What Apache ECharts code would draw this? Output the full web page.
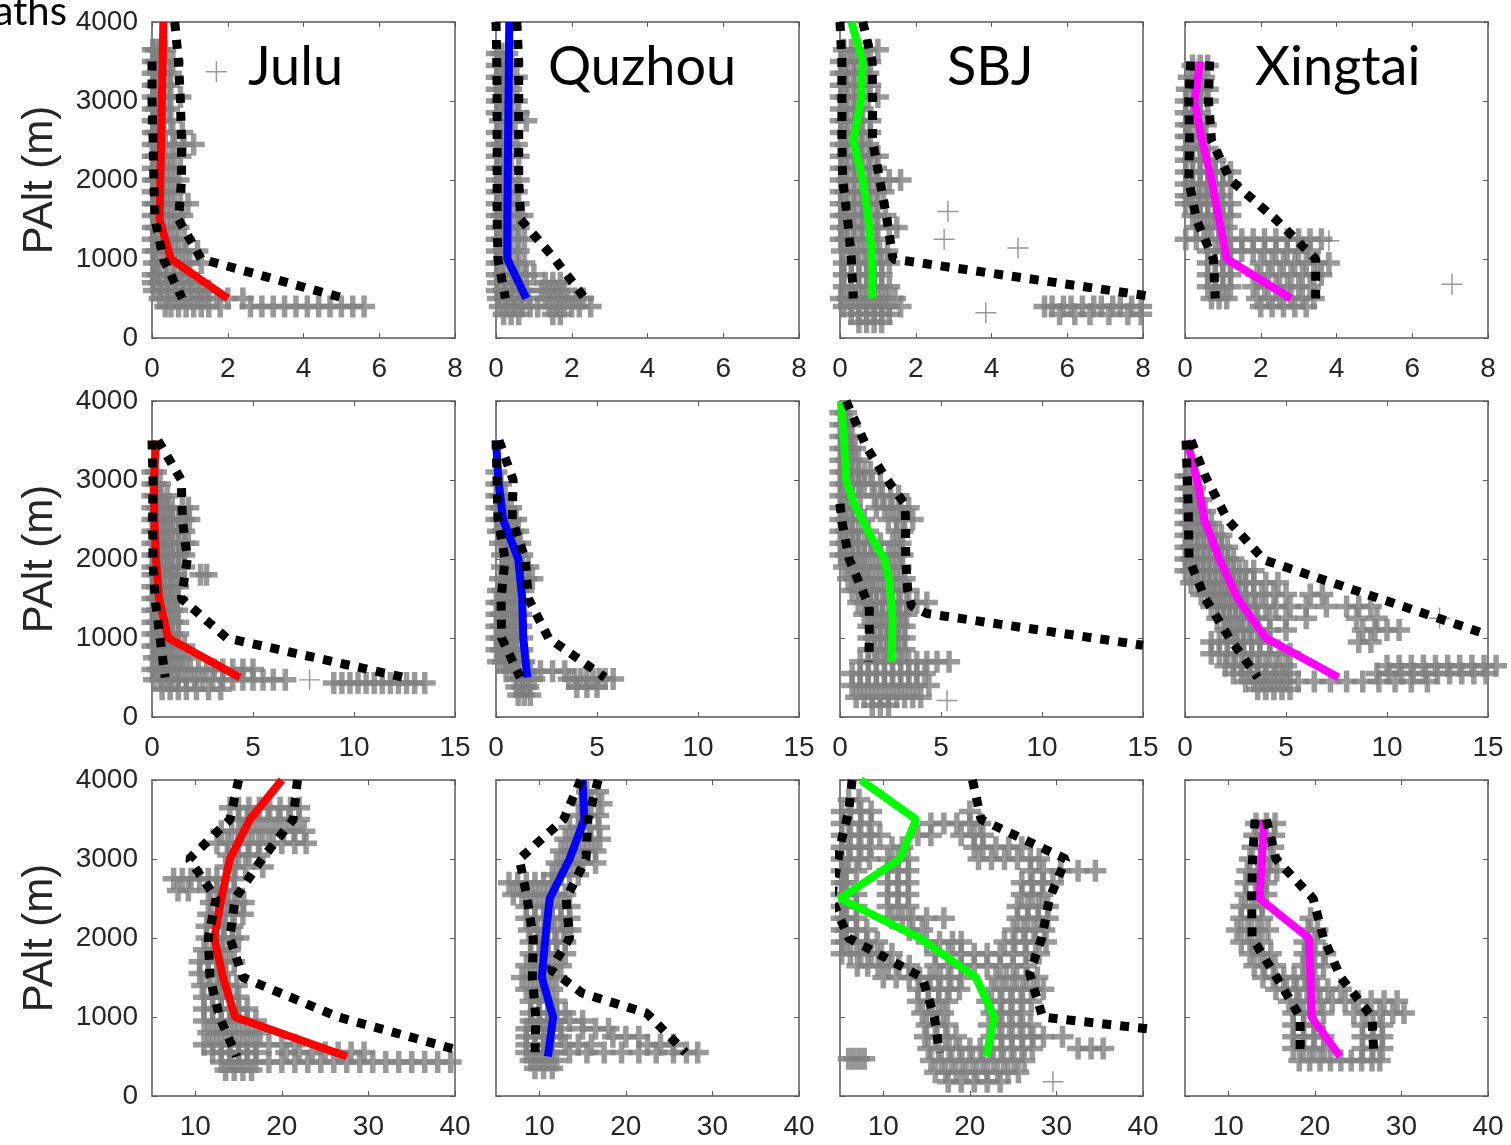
<!DOCTYPE html>
<html>
<head>
<meta charset="utf-8">
<script src="https://cdn.jsdelivr.net/npm/echarts@6/dist/echarts.min.js"></script>
<style>
  html, body { margin: 0; padding: 0; background: #fff; }
  #chart { width: 1511px; height: 1145px; }
</style>
</head>
<body>
<div id="chart"></div>
<script>
// site names / colours (one column each)
const sites = ["Julu", "Quzhou", "SBJ", "Xingtai"];
const siteColors = ["#ff0000", "#0000ff", "#00ff00", "#ff00ff"];

// axis ranges per row
const rowXMin = [0, 0, 5];
const rowXMax = [8, 15, 40];
const rowXTicks = [[0, 2, 4, 6, 8], [0, 5, 10, 15], [10, 20, 30, 40]];

// ---------- row 1 ----------
const julu1Median = [[0.3,4000],[0.28,3500],[0.26,3000],[0.24,2500],[0.22,2000],[0.2,1500],[0.5,1000],[2.0,500]];
const julu1Low = [[0.0,3500],[0.0,3000],[0.03,2500],[0.05,2000],[0.08,1500],[0.3,1000],[0.8,500]];
const julu1High = [[0.6,4000],[0.7,3500],[0.75,3000],[0.78,2500],[0.78,2000],[0.7,1500],[1.3,1000],[5.1,500]];
// rows: [altitude, x, x, ...]
const julu1Cloud = [
  [3650,0.02,0.1,0.2,0.35],
  [3500,0.02,0.1,0.25,0.4,0.55],
  [3350,0.02,0.15,0.3,0.5],
  [3200,0.02,0.1,0.3,0.45],
  [3050,0.02,0.15,0.3,0.5,0.75],
  [2900,0.02,0.1,0.3,0.45],
  [2750,0.02,0.15,0.3,0.5],
  [2600,0.02,0.1,0.3,0.55,0.8],
  [2450,0.02,0.15,0.35,0.6,0.85,1.1],
  [2300,0.02,0.1,0.3,0.5,0.75],
  [2150,0.02,0.2,0.4,0.6],
  [2000,0.02,0.1,0.3,0.5,0.7],
  [1850,0.02,0.2,0.4,0.6],
  [1700,0.02,0.1,0.3,0.5,0.75,0.95],
  [1550,0.02,0.2,0.4,0.6,0.8],
  [1400,0.02,0.1,0.3,0.5,0.7],
  [1250,0.02,0.2,0.4,0.6,0.85],
  [1100,0.02,0.1,0.3,0.5,0.7,0.9,1.2],
  [950,0.05,0.2,0.4,0.6,0.8,1.0,1.3],
  [800,0.02,0.15,0.35,0.55,0.75,0.95],
  [700,0.02,0.2,0.4,0.6,0.8,1.0,1.2],
  [600,0.05,0.25,0.45,0.65,0.85,1.05,1.3,1.5],
  [500,0.2,0.4,0.6,0.8,1.0,1.2,1.4,1.7,2.0,2.4],
  [400,0.35,0.5,0.7,0.9,1.1,1.3,1.5,1.8,2.6,2.9,3.2,3.5,3.8,4.1,4.4,4.7,5.0,5.3,5.6]
];
// isolated single points: [x, altitude]
const julu1Stray = [[1.7,3370]];

const quzhou1Median = [[0.35,4000],[0.34,3500],[0.33,3000],[0.32,2500],[0.31,2000],[0.3,1500],[0.3,1000],[0.8,500]];
const quzhou1Low = [[0.0,4000],[0.02,3500],[0.03,3000],[0.03,2500],[0.03,2000],[0.03,1500],[0.05,1000],[0.25,500]];
const quzhou1High = [[0.55,4000],[0.6,3500],[0.6,3000],[0.6,2500],[0.6,2000],[0.65,1500],[1.55,1000],[2.35,500]];
const quzhou1Cloud = [
  [3600,0.02,0.15,0.3],
  [3450,0.02,0.2,0.4],
  [3300,0.02,0.15,0.35,0.55],
  [3150,0.02,0.2,0.4],
  [3000,0.02,0.15,0.35,0.55],
  [2850,0.02,0.2,0.4,0.6],
  [2750,0.1,0.3,0.5,0.8],
  [2600,0.02,0.2,0.4],
  [2450,0.02,0.15,0.35,0.55],
  [2300,0.02,0.2,0.4,0.6],
  [2150,0.02,0.15,0.35],
  [2000,0.02,0.2,0.4,0.6],
  [1850,0.02,0.15,0.35,0.55],
  [1700,0.02,0.2,0.4,0.6],
  [1550,0.02,0.15,0.35,0.55,0.7],
  [1400,0.02,0.2,0.4,0.6],
  [1250,0.02,0.15,0.35,0.55,0.75],
  [1100,0.02,0.2,0.4,0.6],
  [950,0.02,0.15,0.35,0.55,0.75],
  [800,0.02,0.2,0.4,0.6,0.8,1.0],
  [700,0.05,0.25,0.45,0.65,1.3,1.5,1.7],
  [600,0.02,0.2,0.4,0.6,0.8,1.2,1.4,1.6,1.8],
  [500,0.05,0.25,0.45,0.65,0.85,1.3,1.5,1.7,1.9,2.1,2.3],
  [400,0.1,0.3,0.5,0.7,0.9,1.1,1.4,1.6,1.8,2.0,2.2,2.5],
  [300,0.2,0.4,0.6,1.5,1.7]
];
const quzhou1Stray = [];

const sbj1Median = [[0.3,4000],[0.6,3500],[0.55,3000],[0.35,2500],[0.6,2000],[0.75,1500],[0.85,1000],[0.85,500]];
const sbj1Low = [[0.0,4000],[0.05,3500],[0.05,3000],[0.05,2500],[0.07,2000],[0.2,1500],[0.3,1000],[0.35,500]];
const sbj1High = [[0.6,4000],[0.85,3500],[0.86,3000],[0.86,2500],[1.05,2000],[1.24,1500],[1.4,1000],[8.6,500]];
const sbj1Cloud = [
  [3650,0.1,0.3,0.5,0.7,1.0],
  [3500,0.02,0.2,0.4,0.6,0.8],
  [3350,0.02,0.15,0.35,0.55,0.75],
  [3200,0.02,0.2,0.4,0.6,0.8],
  [3050,0.02,0.15,0.35,0.55,0.75,1.0],
  [2900,0.02,0.2,0.4,0.6],
  [2750,0.02,0.15,0.35,0.55,0.8],
  [2600,0.02,0.2,0.4,0.6,0.8],
  [2450,0.02,0.15,0.35,0.55,0.75],
  [2300,0.02,0.2,0.4,0.6,0.8,1.0],
  [2150,0.02,0.15,0.35,0.55,0.75,0.95],
  [2000,0.02,0.2,0.4,0.6,0.8,1.0,1.3,1.6],
  [1850,0.02,0.15,0.35,0.55,0.75,0.95,1.15],
  [1700,0.02,0.2,0.4,0.6,0.8,1.0],
  [1550,0.02,0.15,0.35,0.55,0.75,0.95,1.2],
  [1400,0.02,0.2,0.4,0.6,0.8,1.0,1.3,1.5],
  [1250,0.02,0.15,0.35,0.55,0.75,0.95],
  [1100,0.05,0.25,0.45,0.65,0.85,1.05,1.25],
  [950,0.1,0.3,0.5,0.7,0.9,1.1,1.3],
  [800,0.1,0.3,0.5,0.7,0.9,1.1],
  [650,0.1,0.3,0.5,0.7,0.9,1.1,1.3],
  [500,0.02,0.2,0.4,0.6,0.8,1.0,1.2,1.45],
  [400,0.1,0.3,0.5,0.7,0.9,1.1,1.3,1.6,5.4,5.6,5.9,6.1,6.4,6.7,6.9,7.2,7.4,7.7,7.95],
  [300,0.3,0.5,0.7,0.9,1.1,1.3,5.8,6.2,6.6,7.1,7.6,7.95],
  [200,0.5,0.7,0.9,1.1]
];
const sbj1Stray = [[2.85,1600],[2.75,1250],[4.7,1140],[3.85,320]];

const xingtai1Median = [[0.4,3500],[0.25,3000],[0.45,2500],[0.7,2000],[0.9,1500],[1.1,1000],[2.8,500]];
const xingtai1Low = [[0.15,3500],[0.1,3000],[0.12,2500],[0.1,2000],[0.3,1500],[0.75,1000],[0.8,500]];
const xingtai1High = [[0.65,3500],[0.62,3000],[0.7,2500],[1.2,2000],[2.4,1500],[3.45,1000],[3.45,500]];
const xingtai1Cloud = [
  [3450,0.2,0.4,0.6],
  [3300,0.1,0.3,0.5],
  [3150,0.05,0.25,0.45,0.6],
  [3000,0.02,0.2,0.4,0.6],
  [2850,0.02,0.2,0.4],
  [2700,0.02,0.15,0.35,0.55],
  [2550,0.02,0.1,0.3,0.5],
  [2400,0.02,0.2,0.4,0.6],
  [2250,0.02,0.2,0.4,0.6,0.8],
  [2100,0.02,0.2,0.4,0.6,0.8,1.0,1.2],
  [1950,0.02,0.2,0.4,0.6,0.8,1.0,1.2],
  [1800,0.02,0.15,0.35,0.55,0.75,0.95],
  [1700,0.02,0.2,0.4,0.6,0.8,1.0,1.2],
  [1550,0.2,0.4,0.6,0.8,1.0,1.2],
  [1400,0.3,0.5,0.7,0.9,1.1],
  [1250,0.02,0.3,0.6,0.9,1.2,1.5,1.8,2.1,2.4,2.7,3.0,3.3,3.6],
  [1100,0.6,0.8,1.0,1.2,1.5,1.8,2.1,2.4,2.7,3.0,3.3],
  [950,0.6,0.8,1.0,1.2,2.0,2.3,2.6,2.9,3.2,3.5,3.8],
  [800,0.6,0.8,1.0,1.2,1.9,2.2,2.5,2.8,3.1,3.4,3.6],
  [650,0.6,0.8,1.0,1.2,1.8,2.1,2.4,2.7,3.0,3.3],
  [500,0.7,0.9,1.1,1.9,2.2,2.5,2.8,3.1,3.4],
  [400,2.0,2.3,2.6,2.9,3.2]
];
const xingtai1Stray = [[3.8,1230],[7.05,680]];

// ---------- row 2 ----------
const julu2Median = [[0.2,3500],[0.1,3000],[0.12,2500],[0.2,2000],[0.35,1500],[0.8,1000],[4.35,500]];
const julu2Low = [[0.0,3500],[0.05,3000],[0.03,2500],[0.05,2000],[0.15,1500],[0.4,1000],[0.65,500]];
const julu2High = [[0.3,3500],[1.45,3000],[1.5,2500],[1.75,2000],[1.45,1500],[3.7,1000],[12.5,500]];
const julu2Cloud = [
  [3100,0.02,0.2],
  [2950,0.02,0.2,0.4],
  [2800,0.02,0.2,0.45,0.75],
  [2650,0.02,0.25,0.5,0.75,1.0,1.5,1.8],
  [2500,0.02,0.25,0.5,0.75,1.0,1.3,1.6,1.85],
  [2350,0.02,0.25,0.5,0.75,1.0,1.3,1.6],
  [2200,0.02,0.25,0.5,0.75,1.0,1.3,1.6,1.8],
  [2050,0.02,0.25,0.5,0.75,1.0,1.3,1.6],
  [1900,0.02,0.25,0.5,0.75,1.0,1.3,1.6],
  [1800,0.02,0.3,0.6,0.9,1.2,2.4,2.7],
  [1650,0.02,0.25,0.5,0.75,1.0,1.3],
  [1500,0.02,0.25,0.5,0.75,1.0,1.25],
  [1350,0.02,0.25,0.5,0.75,1.0,1.25],
  [1200,0.02,0.25,0.5,0.75,1.0,1.3],
  [1050,0.02,0.25,0.5,0.75,1.0,1.3],
  [900,0.02,0.25,0.5,0.75,1.0,1.3,1.6],
  [750,0.1,0.35,0.6,0.85,1.1,1.4,1.7],
  [600,0.02,0.3,0.6,0.9,1.2,1.5,1.9,2.3,2.7,3.1,3.5,4.0,4.5,5.0],
  [470,0.1,0.4,0.7,1.0,1.3,1.7,2.1,2.5,3.0,3.5,4.0,4.5,5.0,5.5,6.0,6.6],
  [430,9.0,9.4,9.8,10.2,10.6,11.0,11.4,11.8,12.2,12.6,13.0,13.5],
  [350,0.5,0.9,1.3,1.7,2.2,2.8,3.4]
];
const julu2Stray = [[7.8,470]];

const quzhou2Median = [[0.0,3500],[0.12,3000],[0.35,2500],[1.1,2000],[1.3,1500],[1.35,1000],[1.55,500]];
const quzhou2Low = [[0.0,3500],[0.05,3000],[0.1,2500],[0.45,2000],[0.25,1500],[0.28,1000],[1.2,500]];
const quzhou2High = [[0.15,3500],[0.85,3000],[0.8,2500],[1.45,2000],[1.6,1500],[2.6,1000],[5.4,500]];
const quzhou2Cloud = [
  [3100,0.02],
  [2950,0.02,0.25],
  [2800,0.02,0.2,0.45],
  [2650,0.02,0.25,0.5,0.75],
  [2500,0.02,0.25,0.5,0.75,1.0],
  [2350,0.1,0.35,0.6,0.85,1.1],
  [2200,0.2,0.45,0.7,0.95,1.2],
  [2050,0.3,0.55,0.8,1.05,1.3],
  [1900,0.3,0.55,0.8,1.05,1.3,1.6],
  [1750,0.2,0.45,0.7,0.95,1.2,1.5,1.8],
  [1600,0.1,0.35,0.6,0.85,1.1,1.35],
  [1450,0.02,0.25,0.5,0.75,1.0,1.25],
  [1300,0.02,0.25,0.5,0.75,1.0,1.25],
  [1150,0.02,0.25,0.5,0.75,1.0,1.25],
  [1000,0.02,0.25,0.5,0.75,1.0,1.3],
  [850,0.02,0.25,0.5,0.75,1.0,1.3],
  [700,0.1,0.35,0.6,0.85,1.1,1.4],
  [580,0.5,0.8,1.1,1.4,1.7,2.2,2.8,3.4],
  [480,1.0,1.3,1.6,1.9,3.6,3.9,4.2,4.5,4.8,5.1,5.4,5.8],
  [380,1.0,1.3,1.6,4.0,4.5,5.0],
  [280,1.1,1.4,1.7]
];
const quzhou2Stray = [];

const sbj2Median = [[0.05,4000],[0.2,3500],[0.3,3000],[0.7,2700],[1.5,2300],[2.2,2000],[2.45,1700],[2.6,1250],[2.55,700]];
const sbj2Low = [[0.0,2700],[0.1,2470],[0.45,2000],[1.2,1550],[1.45,1400],[1.45,1000],[1.42,700]];
const sbj2High = [[0.3,4000],[1.35,3400],[2.2,3050],[3.2,2700],[3.25,2500],[3.25,2000],[3.35,1600],[3.55,1400],[4.3,1310],[15.0,908]];
const sbj2Cloud = [
  [3850,0.02,0.3],
  [3700,0.02,0.25,0.5],
  [3550,0.02,0.3,0.6],
  [3400,0.02,0.25,0.5,0.75],
  [3250,0.02,0.3,0.6,0.9],
  [3100,0.02,0.3,0.6,0.9,1.2,1.5],
  [2950,0.02,0.3,0.6,0.9,1.2,1.6,2.0],
  [2800,0.02,0.3,0.6,1.0,1.7,2.1,2.5,2.9],
  [2650,0.02,0.3,0.6,1.8,2.2,2.6,3.0,3.4],
  [2500,0.02,0.3,0.6,1.2,2.4,2.8,3.2,3.6],
  [2350,0.02,0.3,0.6,0.9,1.4,2.8,3.1],
  [2200,0.02,0.3,0.6,0.9,1.2,1.5,2.0,2.6,3.0],
  [2050,0.02,0.3,0.6,0.9,1.2,1.6,2.0,2.4,2.8,3.1],
  [1900,0.2,0.5,0.8,1.1,1.4,1.8,2.2,2.6,3.0],
  [1750,0.4,0.7,1.0,1.3,1.6,2.0,2.4,2.8,3.2],
  [1600,0.6,0.9,1.2,1.5,1.8,2.2,2.6,3.0,3.4],
  [1450,0.9,1.2,1.5,1.8,2.1,2.5,2.9,3.3,3.8,4.3],
  [1300,1.2,1.5,1.8,2.1,2.4,2.7,3.0,3.3],
  [1150,1.4,1.7,2.0,2.3,2.6,2.9,3.2],
  [1000,1.4,1.7,2.0,2.3,2.6,2.9,3.2],
  [850,1.4,1.7,2.0,2.3,2.6,2.9,3.2],
  [700,1.0,1.4,1.8,2.2,2.6,3.0,3.4,3.8,4.3,4.8,5.4],
  [550,0.6,1.0,1.4,1.8,2.2,2.6,3.0,3.4,3.8,4.2],
  [400,0.6,1.0,1.4,1.8,2.2,2.6,3.0,3.4,3.8,4.4],
  [250,0.8,1.2,1.6,2.0,2.4,2.8,3.2,3.6,4.0],
  [150,1.6,2.0,2.4]
];
const sbj2Stray = [[5.3,210]];

const xingtai2Median = [[0.1,3500],[0.6,3000],[0.95,2500],[1.7,2000],[2.6,1500],[4.0,1000],[7.6,500]];
const xingtai2Low = [[0.05,3500],[0.12,3000],[0.17,2500],[0.2,2000],[1.0,1500],[2.2,1000],[3.6,500]];
const xingtai2High = [[0.3,3500],[1.0,3050],[2.1,2500],[3.9,1990],[15.0,1040]];
const xingtai2Cloud = [
  [3050,0.02,0.2],
  [2900,0.02,0.25,0.5],
  [2750,0.02,0.25,0.5,0.8],
  [2600,0.02,0.25,0.5,0.75,1.0],
  [2450,0.02,0.25,0.5,0.75,1.0,1.3],
  [2300,0.02,0.3,0.6,0.9,1.2,1.5,1.8],
  [2150,0.02,0.3,0.6,0.9,1.2,1.5,1.8,2.1],
  [2000,0.02,0.3,0.6,0.9,1.2,1.5,1.8,2.1,2.4],
  [1850,0.02,0.3,0.6,0.9,1.2,1.5,1.8,2.1,2.4,2.7,3.0,3.4],
  [1700,0.3,0.6,0.9,1.2,1.5,1.8,2.1,2.4,2.7,3.0,3.4,4.0,4.6],
  [1550,0.8,1.1,1.4,1.7,2.0,2.3,2.6,3.0,3.4,3.8,4.4,5.0,6.2,6.8],
  [1400,1.3,1.6,1.9,2.2,2.5,2.8,3.1,3.5,4.0,4.5,5.2,6.0,7.0,8.0,8.6,9.2],
  [1250,1.6,1.9,2.2,2.5,2.8,3.2,3.6,4.2,5.0,6.0,8.5,9.5],
  [1100,2.0,2.3,2.6,2.9,3.2,3.6,4.2,5.0,8.8,9.4,10.0,10.6],
  [950,1.3,1.7,2.1,2.5,2.9,3.3,3.7,4.2,8.6,9.2],
  [800,1.3,1.7,2.1,2.5,2.9,3.3,3.7,4.2,4.7,5.2],
  [650,2.0,2.4,2.8,3.2,3.6,4.0,4.5,5.0,10.0,10.6,11.2,11.8,12.4,13.0,13.6,14.2,14.8,15.4],
  [550,2.4,2.8,3.2,3.6,4.0,4.4,4.8,5.2,9.5,10.1,10.7,11.3,11.9,12.5,13.1,13.7,14.3,14.9],
  [450,3.0,3.4,3.8,4.2,4.6,5.0,5.6,6.4,7.2,8.0,8.8,9.6,10.4,11.2,12.0],
  [350,3.6,4.0,4.4,4.8,5.2]
];
const xingtai2Stray = [[12.6,1250]];

// ---------- row 3 ----------
const julu3Median = [[20,4000],[16.3,3500],[14,3000],[13,2500],[12.2,2000],[13.2,1500],[14.6,1000],[27.5,500]];
const julu3Low = [[15,4000],[14,3500],[9.3,3000],[12.4,2500],[11.5,2000],[11.7,1500],[12.8,1000],[14.8,500]];
const julu3High = [[21.8,4000],[21.3,3500],[17.7,3000],[14.6,2500],[14.0,2000],[15.5,1500],[26.5,1000],[43,500]];
const julu3Cloud = [
  [3650,14.0,15.0,16.2,17.4,18.6,19.8,21.0,22.0],
  [3500,15.0,16.0,17.2,18.4,19.6,20.8,22.0],
  [3350,13.0,14.2,15.4,16.6,17.8,19.0,20.2,21.4,22.6],
  [3200,12.5,13.7,14.9,16.1,17.3,18.5,20.0,21.5,22.8],
  [3050,13.8,15.0,16.2,17.4],
  [2900,13.5,14.6,15.8,17.8],
  [2750,7.5,8.5,9.5,10.5,11.5,12.5,13.5,14.5],
  [2600,8.0,9.2,11.5,12.5,13.5,14.5],
  [2450,11.8,12.8,13.8,14.8,15.6],
  [2300,11.5,12.5,13.5,14.5,15.5],
  [2150,11.3,12.3,13.3,14.3],
  [2000,11.3,12.3,13.3,14.3,15.0],
  [1850,11.0,12.0,13.0,14.0],
  [1700,10.5,11.5,12.5,13.5,14.5],
  [1550,10.5,11.5,12.5,13.5],
  [1400,10.8,11.8,12.8,13.8,14.8],
  [1250,11.0,12.0,13.0,14.0,15.0],
  [1100,11.0,12.0,13.0,14.0,15.0,16.0],
  [950,11.0,12.0,13.0,14.0,15.0,16.0,17.0],
  [800,11.5,12.5,13.5,14.5,15.5,16.5,17.5],
  [650,11.0,12.0,13.0,14.0,15.0,16.0,17.0,18.5,20.0,21.5],
  [550,12.0,13.0,14.0,15.0,16.0,17.0,20.5,22.0,23.5,25.0,26.5,28.0,29.5],
  [430,13.0,14.0,15.0,16.0,17.0,18.5,20.0,21.5,23.0,24.5,26.0,27.5,29.0,30.5,32.0,33.5,35.0,36.5,38.0,39.5],
  [330,13.5,14.5,15.5,16.5]
];
const julu3Stray = [];

const quzhou3Median = [[15,4000],[15.2,3500],[13.5,3000],[11.2,2500],[10.7,2000],[10.3,1500],[11.6,1000],[11.0,500]];
const quzhou3Low = [[14.8,4000],[12.8,3500],[7.7,3000],[8.6,2500],[9.3,2000],[9.2,1500],[9.6,1000],[9.5,500]];
const quzhou3High = [[16.8,4000],[15.6,3500],[15.4,3000],[13.1,2500],[13.5,2000],[11.3,1600],[15.0,1300],[22.4,1050],[26.9,550]];
const quzhou3Cloud = [
  [3850,15.5,16.8],
  [3700,14.8,16.0,17.2],
  [3550,14.5,15.6,16.8],
  [3400,13.5,14.6,15.8,16.9],
  [3250,13.0,14.0,15.0,16.0,17.0],
  [3100,12.5,13.5,14.5,15.5,16.5],
  [2950,12.0,13.0,14.0,15.0,16.5],
  [2800,11.5,12.5,13.5,14.5],
  [2700,6.5,7.5,8.5,9.5,10.5,11.5],
  [2550,7.0,8.0,9.0,10.0,11.0,12.0,13.0],
  [2400,8.5,9.5,10.5,11.5,12.5,13.5],
  [2250,8.5,9.5,10.5,11.5,12.5,13.5],
  [2100,8.8,9.8,10.8,11.8,12.8,13.6],
  [1950,9.0,10.0,11.0,12.0,13.0],
  [1800,9.0,10.0,11.0,12.0,13.0],
  [1650,8.5,9.5,10.5,11.5,12.5],
  [1500,8.0,9.0,10.0,11.0,12.0],
  [1350,8.5,9.5,10.5,11.5],
  [1200,9.0,10.0,11.0,12.0],
  [1050,9.0,10.0,11.0,12.0,13.0],
  [950,9.0,10.0,11.0,12.0,13.5,15.0],
  [850,8.5,9.5,10.5,11.5,12.5,15.0,16.5,18.0],
  [750,8.5,9.5,10.5,11.5,12.5,18.5,20.0,21.5],
  [650,8.5,9.5,10.5,11.5,13.0,14.5,16.0,22.5,24.0,25.5],
  [550,8.5,9.5,10.5,11.5,13.5,15.5,17.5,19.5,21.5,23.5,25.5,27.0,28.3],
  [450,9.0,10.0,11.0,12.0],
  [350,9.5,10.5,11.5]
];
const quzhou3Stray = [];

const sbj3Median = [[7.4,4000],[13.8,3500],[11.9,3000],[5.0,2500],[14.2,2000],[20.7,1500],[22.8,1000],[21.9,500]];
const sbj3Low = [[6.4,4000],[6.0,3600],[5.1,3200],[4.0,2500],[6.0,2000],[14.5,1500],[15.9,1000],[16.5,550]];
const sbj3High = [[20.3,4000],[21.3,3500],[31.1,3000],[29.2,2500],[28.3,2000],[26.9,1550],[28.4,1000],[69,500]];
const sbj3Cloud = [
  [3750,6.0,7.2],
  [3600,5.2,6.2,7.4,8.6,20.0],
  [3450,5.2,6.2,7.4,8.6,15.5,17.0,18.5,20.0,21.2],
  [3300,5.2,6.0,7.2,8.4,9.6,14.0,15.5,19.0,20.5,21.5],
  [3150,5.2,6.2,7.4,8.6,11.0,12.2,20.5,21.5,23.0,24.5,26.0],
  [3000,5.2,6.0,7.2,8.4,10.5,11.7,12.9,21.0,22.5,24.0,25.5,27.0,28.0],
  [2850,5.2,5.7,6.9,10.5,11.7,12.9,27.0,28.5,30.5,32.5,34.5],
  [2700,5.2,5.7,10.5,11.7,12.9,26.0,27.2,28.4,29.6],
  [2550,5.2,5.7,6.9,10.5,11.7,12.9,26.0,27.2,28.4],
  [2400,5.2,5.7,6.9,10.5,11.7,12.9,25.5,26.7,27.9,29.0],
  [2250,5.2,5.7,6.9,11.0,12.2,13.4,15.0,17.0,25.5,26.7,27.9,29.0],
  [2100,5.2,5.7,6.9,8.1,13.0,14.5,25.0,26.2,27.4,28.6],
  [1950,5.2,5.7,6.9,8.1,9.3,15.0,16.5,18.0,19.0,24.0,25.2,26.4,27.6,28.8],
  [1800,5.2,6.2,7.4,8.6,9.8,11.0,16.0,17.5,19.0,20.5,22.0,23.5,25.0,26.5,28.0],
  [1650,7.0,8.2,9.4,10.6,11.8,13.0,16.0,17.5,19.0,20.5,22.0,23.5,25.0,26.5],
  [1500,10.0,11.5,13.0,14.2,15.4,16.6,17.8,19.0,23.0,24.2,25.4,26.6,27.8],
  [1350,14.0,15.2,16.4,17.6,18.8,22.5,23.7,24.9,26.1,27.3,28.5],
  [1200,14.0,15.2,16.4,17.4,22.0,23.5,24.7,25.9,27.1],
  [1050,14.5,15.7,16.9,22.5,23.7,24.9,26.1],
  [900,15.0,16.2,17.4,22.2,23.4,24.6,25.8,27.0],
  [750,14.8,16.0,17.2,18.4,22.5,23.7,24.9,26.1,27.3,28.5,30.7],
  [600,15.2,16.4,17.6,18.8,20.0,21.2,22.4,23.6,24.8,26.0,27.2,32.5,34.0,35.4],
  [470,6.0,6.6,7.2,7.8],
  [450,15.5,16.7,17.9,19.1,20.3,21.5,22.7,23.9,25.1,26.3],
  [300,16.0,17.2,18.4,19.6,20.8,22.0,23.2,24.4,25.6],
  [180,17.5,19.0,20.5,22.0,23.5]
];
const sbj3Stray = [[29.6,180]];

const xingtai3Median = [[14.1,3500],[13.9,3000],[13.6,2500],[19.3,2000],[19.5,1500],[19.6,1000],[22.9,500]];
const xingtai3Low = [[13.1,3500],[12.8,3000],[12.7,2500],[12.75,2000],[15.6,1500],[18.3,1000],[18.3,550]];
const xingtai3High = [[14.4,3500],[15.5,3000],[19.8,2500],[21.0,2000],[23.0,1500],[26.6,1000],[26.8,550]];
const xingtai3Cloud = [
  [3450,13.2,14.4,15.4],
  [3300,13.0,14.2,15.3],
  [3150,12.8,14.0,15.2],
  [3000,12.5,13.7,14.9],
  [2850,12.2,13.4,14.6,15.6],
  [2700,12.0,13.2,14.4],
  [2550,12.0,13.2,14.4],
  [2400,11.5,12.7,13.9],
  [2250,11.5,12.7,13.9,19.5],
  [2100,11.0,12.2,13.4,14.6,19.2,20.3],
  [1950,11.5,12.7,13.9,18.8,20.0],
  [1800,12.5,13.7,14.9,18.8,20.0,21.2],
  [1650,13.0,14.2,15.4,18.6,19.8,21.0],
  [1500,14.0,15.2,16.4,17.6,18.8,20.0],
  [1350,15.5,16.7,17.9,19.1,20.3,21.5,23.0],
  [1200,17.0,18.2,19.4,20.6,22.0,23.5,25.0,26.5,28.0,29.5],
  [1050,17.5,18.7,19.9,21.0,24.5,26.0,27.5,29.0,30.3],
  [900,17.5,18.7,19.9,25.5,26.7,27.8],
  [750,17.5,18.7,19.9,21.0,25.5,26.7,27.8],
  [600,17.5,18.7,19.9,21.1,25.5,26.7,27.8],
  [450,18.2,19.4,20.6,21.8,23.0,24.2,25.4,26.6,27.5]
];
const xingtai3Stray = [];

const panels = [
  [julu1Median, julu1Low, julu1High, julu1Cloud, julu1Stray],
  [quzhou1Median, quzhou1Low, quzhou1High, quzhou1Cloud, quzhou1Stray],
  [sbj1Median, sbj1Low, sbj1High, sbj1Cloud, sbj1Stray],
  [xingtai1Median, xingtai1Low, xingtai1High, xingtai1Cloud, xingtai1Stray],
  [julu2Median, julu2Low, julu2High, julu2Cloud, julu2Stray],
  [quzhou2Median, quzhou2Low, quzhou2High, quzhou2Cloud, quzhou2Stray],
  [sbj2Median, sbj2Low, sbj2High, sbj2Cloud, sbj2Stray],
  [xingtai2Median, xingtai2Low, xingtai2High, xingtai2Cloud, xingtai2Stray],
  [julu3Median, julu3Low, julu3High, julu3Cloud, julu3Stray],
  [quzhou3Median, quzhou3Low, quzhou3High, quzhou3Cloud, quzhou3Stray],
  [sbj3Median, sbj3Low, sbj3High, sbj3Cloud, sbj3Stray],
  [xingtai3Median, xingtai3Low, xingtai3High, xingtai3Cloud, xingtai3Stray]
];

// layout
const gridLeft = [152, 496, 840, 1185];
const gridTop = [22, 401, 780];
const gridW = 303, gridH = 316;
const axisColor = "#5a5a5a";
const labelFont = "Liberation Sans";
// "+" markers: thick for dense clouds, thin for single points
const plusThick = "path://M-1,-0.25L1,-0.25L1,0.25L-1,0.25ZM-0.25,-1L0.25,-1L0.25,1L-0.25,1Z";
const plusThin = "path://M-1,-0.07L1,-0.07L1,0.07L-1,0.07ZM-0.07,-1L0.07,-1L0.07,1L-0.07,1Z";

const grid = [], xAxis = [], yAxis = [], series = [];

panels.forEach(([median, low, high, cloud, stray], i) => {
  const row = Math.floor(i / 4), col = i % 4;
  grid.push({ left: gridLeft[col], top: gridTop[row], width: gridW, height: gridH });

  const xBase = {
    type: "value",
    gridIndex: i,
    min: rowXMin[row],
    max: rowXMax[row],
    interval: rowXTicks[row][1] - rowXTicks[row][0],
    splitLine: { show: false },
    axisLine: { show: true, onZero: false, lineStyle: { color: axisColor, width: 1.5 } },
    axisTick: { show: true, inside: true, length: 5, customValues: rowXTicks[row], lineStyle: { color: axisColor } },
  };
  xAxis.push(Object.assign({}, xBase, {
    position: "bottom",
    axisLabel: {
      show: true,
      customValues: rowXTicks[row],
      margin: 17,
      fontSize: 28,
      fontFamily: labelFont,
      color: "#262626",
      formatter: (v) => (rowXTicks[row].includes(v) ? String(v) : ""),
    },
  }));
  xAxis.push(Object.assign({}, xBase, { position: "top", axisLabel: { show: false } }));

  const yBase = {
    type: "value",
    gridIndex: i,
    min: 0,
    max: 4000,
    interval: 1000,
    splitLine: { show: false },
    axisLine: { show: true, onZero: false, lineStyle: { color: axisColor, width: 1.5 } },
    axisTick: { show: true, inside: true, length: 5, lineStyle: { color: axisColor } },
  };
  yAxis.push(Object.assign({}, yBase, {
    position: "left",
    axisLabel: {
      show: col === 0,
      margin: 14,
      fontSize: 28,
      fontFamily: labelFont,
      color: "#262626",
      formatter: (v) => String(v),
    },
  }));
  yAxis.push(Object.assign({}, yBase, { position: "right", axisLabel: { show: false } }));

  const points = cloud.flatMap((r) => r.slice(1).map((x) => [x, r[0]]));
  series.push({
    type: "scatter",
    xAxisIndex: 2 * i,
    yAxisIndex: 2 * i,
    data: points,
    symbol: plusThick,
    symbolSize: 22,
    itemStyle: { color: "#808080" },
    clip: false,
    z: 1,
  });
  series.push({
    type: "scatter",
    xAxisIndex: 2 * i,
    yAxisIndex: 2 * i,
    data: stray,
    symbol: plusThin,
    symbolSize: 21,
    itemStyle: { color: "#808080" },
    clip: false,
    z: 1,
  });
  series.push({
    type: "line",
    xAxisIndex: 2 * i,
    yAxisIndex: 2 * i,
    data: median,
    showSymbol: false,
    symbol: "none",
    lineStyle: { color: siteColors[col], width: 8 },
    z: 2,
  });
  [low, high].forEach((d) => {
    series.push({
      type: "line",
      xAxisIndex: 2 * i,
      yAxisIndex: 2 * i,
      data: d,
      showSymbol: false,
      symbol: "none",
      lineStyle: { color: "#000", width: 9, type: [9, 9], cap: "butt" },
      z: 3,
    });
  });
});

const graphic = [];
// site names on the top row
const titleX = [248, 548, 947, 1255];
sites.forEach((s, c) => {
  graphic.push({
    type: "text",
    x: titleX[c],
    y: 68,
    z: 10,
    style: { text: s, font: "54px Lato", fill: "#000", textAlign: "left", textVerticalAlign: "middle" },
  });
});
// y axis names
gridTop.forEach((t) => {
  graphic.push({
    type: "text",
    x: 40,
    y: t + gridH / 2,
    rotation: Math.PI / 2,
    style: { text: "PAlt (m)", font: "42px Liberation Sans", fill: "#262626", textAlign: "center", textVerticalAlign: "middle" },
  });
});
// cut-off caption at top left
graphic.push({
  type: "text",
  x: 67,
  y: 12,
  style: { text: "aths", font: "40px Lato", fill: "#000", textAlign: "right", textVerticalAlign: "middle" },
});

const chart = echarts.init(document.getElementById("chart"));
chart.setOption({
  animation: false,
  backgroundColor: "#fff",
  grid,
  xAxis,
  yAxis,
  series,
  graphic,
});
</script>
</body>
</html>
